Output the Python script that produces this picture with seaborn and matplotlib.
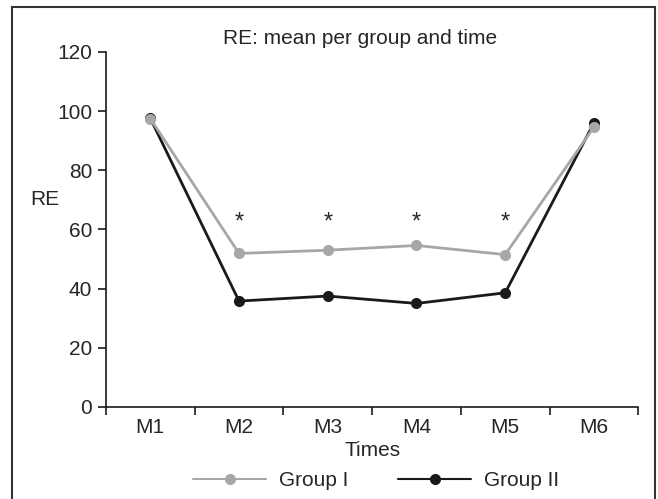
import numpy as np
import pandas as pd
import matplotlib
matplotlib.use("Agg")
import matplotlib.pyplot as plt
import seaborn as sns
from matplotlib.patches import Rectangle
from matplotlib.lines import Line2D
from matplotlib.ticker import FixedLocator

times = ["M1", "M2", "M3", "M4", "M5", "M6"]
group_1 = [97.5, 51.9, 53.0, 54.6, 51.5, 94.6]
group_2 = [97.6, 35.8, 37.5, 35.0, 38.6, 96.0]
signif = ["M2", "M3", "M4", "M5"]

df = pd.DataFrame({
    "Times": times * 2,
    "RE": group_1 + group_2,
    "Group": ["Group I"] * 6 + ["Group II"] * 6,
})

grey = "#a7a7a9"
black = "#1a1a1a"
fs = 15

sns.set_style("ticks")
plt.rcParams["font.family"] = ["Liberation Sans", "DejaVu Sans"]
plt.rcParams["font.size"] = fs

fig = plt.figure(figsize=(6.58, 4.99), dpi=100)
ax = fig.add_axes([0.161, 0.1844, 0.809, 0.7114])

# group II first so the grey one sits on top where they overlap
sns.lineplot(data=df, x="Times", y="RE", hue="Group", hue_order=["Group II", "Group I"],
             ax=ax, palette={"Group I": grey, "Group II": black},
             marker="o", markersize=8, markeredgewidth=0, linewidth=2,
             legend=False)

ax.set_ylim(0, 120)
ax.set_yticks(np.arange(0, 121, 20))
ax.set_xlim(-0.5, 5.5)
ax.xaxis.set_minor_locator(FixedLocator(np.arange(-0.5, 6, 1)))
ax.tick_params(axis="x", which="major", length=0, pad=8, labelsize=fs)
ax.tick_params(axis="x", which="minor", length=6, width=1.2, color=black)
ax.tick_params(axis="y", length=6, width=1.2, color=black, labelsize=fs, pad=4)
for s in ["left", "bottom"]:
    ax.spines[s].set_linewidth(1.2)
    ax.spines[s].set_color(black)
sns.despine(ax=ax)

ax.set_xlabel("Times", fontsize=fs, labelpad=3)
ax.set_ylabel("")
fig.text(45 / 658, 1 - 199 / 499, "RE", fontsize=fs, ha="center", va="center")
fig.text(360 / 658, 1 - 38 / 499, "RE: mean per group and time", fontsize=fs,
         ha="center", va="center")

for t in signif:
    ax.text(times.index(t), 62.5, "*", ha="center", va="center", fontsize=17)

handles = [
    Line2D([], [], color=grey, marker="o", markersize=8, markeredgewidth=0, linewidth=1.5),
    Line2D([], [], color=black, marker="o", markersize=8, markeredgewidth=0, linewidth=1.5),
]
fig.legend(handles, ["Group I", "Group II"], loc="center",
           bbox_to_anchor=(376 / 658, 1 - 481 / 499),
           ncol=2, frameon=False, handlelength=3.5, handletextpad=0.6,
           columnspacing=2.4, fontsize=fs)

fig.patches.append(Rectangle((12 / 658, -0.05), 643 / 658, 1 - 7 / 499 + 0.05,
                             transform=fig.transFigure, fill=False,
                             edgecolor="#333333", linewidth=1.5))

fig.savefig("out.png", dpi=100)
